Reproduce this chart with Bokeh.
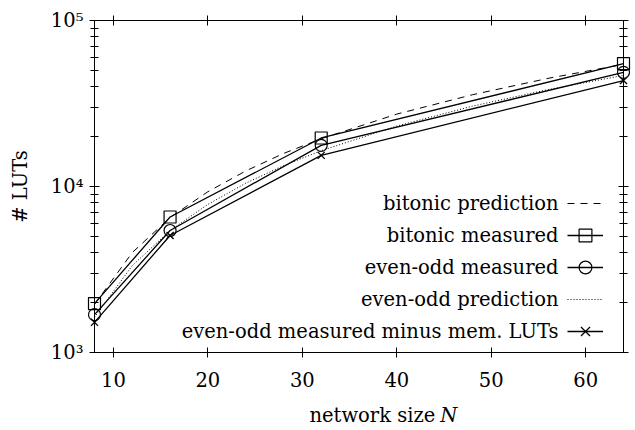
from bokeh.plotting import figure
from bokeh.layouts import column
from bokeh.models import (LogAxis, LinearAxis, Legend, LegendItem, Label,
                          FixedTicker, Range1d)
from bokeh.core.properties import value
from bokeh.embed import file_html
from bokeh.resources import INLINE

# ---- data ----
N = [8, 16, 32, 64]
bitonic_measured = [1970, 6550, 19600, 55000]
evenodd_measured = [1690, 5430, 17700, 48700]
evenodd_minus_mem = [1520, 5070, 15400, 43500]

N_pred = [8, 12, 16, 20, 24, 28, 32, 40, 48, 56, 64]
bitonic_pred = [1950, 4000, 6500, 9300, 12400, 15800, 19400, 27300, 35700, 44800, 54400]
evenodd_pred = [1630, 3340, 5420, 7800, 10460, 13340, 16430, 23130, 30470, 38340, 46700]

x_ticks = [10, 20, 30, 40, 50, 60]
y_ticks = [1000, 10000, 100000]
y_tick_labels = ["10³", "10⁴", "10⁵"]
y_minor = [m * 10 ** k for k in (3, 4) for m in range(2, 10)]

legend_labels = ["bitonic prediction", "bitonic measured", "even-odd measured",
                 "even-odd prediction", "even-odd measured minus mem. LUTs"]

FONT = "DejaVu Serif"
FS = "19.5px"

p = figure(width=635, height=398, y_axis_type="log",
           x_range=Range1d(8, 64), y_range=Range1d(1000, 100000),
           output_backend="svg", toolbar_location=None,
           min_border_left=94, min_border_right=12, min_border_top=20,
           min_border_bottom=46)
p.grid.visible = False
p.outline_line_color = "black"
p.outline_line_width = 1
p.background_fill_color = "white"
p.border_fill_color = "white"


def style_axis(ax, show_labels):
    ax.axis_line_color = "black"
    ax.major_tick_line_color = "black"
    ax.minor_tick_line_color = "black"
    ax.major_tick_in = 5
    ax.major_tick_out = 5
    ax.minor_tick_in = 4
    ax.minor_tick_out = 4
    if show_labels:
        ax.major_label_text_font = FONT
        ax.major_label_text_font_size = FS
        ax.major_label_text_color = "black"
    else:
        ax.major_label_text_font_size = "1px"
        ax.major_label_text_color = None
        ax.major_label_standoff = 0


xa = p.xaxis[0]
xa.ticker = FixedTicker(ticks=x_ticks)
style_axis(xa, True)
xa.minor_tick_line_color = None
xa.major_label_standoff = 14

ya = p.yaxis[0]
ya.ticker = FixedTicker(ticks=y_ticks, minor_ticks=y_minor)
style_axis(ya, True)
ya.major_label_overrides = {t: l for t, l in zip(y_ticks, y_tick_labels)}
ya.major_label_standoff = 6
ya.axis_label = "# LUTs"
ya.axis_label_text_font = FONT
ya.axis_label_text_font_size = FS
ya.axis_label_text_font_style = "normal"
ya.axis_label_text_color = "black"
ya.axis_label_standoff = 16

top = LinearAxis(ticker=FixedTicker(ticks=x_ticks))
style_axis(top, False)
top.minor_tick_line_color = None
p.add_layout(top, "above")

right = LogAxis(ticker=FixedTicker(ticks=y_ticks, minor_ticks=y_minor))
style_axis(right, False)
p.add_layout(right, "right")

LW = 1.3
r_bp = p.line(N_pred, bitonic_pred, line_color="black", line_width=1,
              line_dash="7 6")
r_bm_l = p.line(N, bitonic_measured, line_color="black", line_width=LW)
r_bm_m = p.scatter(N, bitonic_measured, marker="square", size=12,
                   fill_color=None, line_color="black", line_width=1.2,
                   level="overlay")
r_em_l = p.line(N, evenodd_measured, line_color="black", line_width=LW)
r_em_m = p.scatter(N, evenodd_measured, marker="circle", size=12,
                   fill_color=None, line_color="black", line_width=1.2,
                   level="overlay")
r_ep = p.line(N_pred, evenodd_pred, line_color="black", line_width=1,
              line_dash="1 2")
r_mm_l = p.line(N, evenodd_minus_mem, line_color="black", line_width=LW)
r_mm_m = p.scatter(N, evenodd_minus_mem, marker="x", size=10,
                   line_color="black", line_width=1.3, level="overlay")

items = [
    LegendItem(label="·", renderers=[r_bp]),
    LegendItem(label="·", renderers=[r_bm_l, r_bm_m]),
    LegendItem(label="·", renderers=[r_em_l, r_em_m]),
    LegendItem(label="·", renderers=[r_ep]),
    LegendItem(label="·", renderers=[r_mm_l, r_mm_m]),
]
legend = Legend(items=items, location=(473, 5), glyph_width=36,
                glyph_height=32, label_height=32, spacing=0, padding=0,
                margin=0, border_line_color=None, background_fill_alpha=0,
                label_text_font_size="2px", label_text_color=None,
                label_standoff=0, label_width=1)
p.add_layout(legend)

row_y = [149, 117, 85, 53, 21]
for txt, yy in zip(legend_labels, row_y):
    p.add_layout(Label(x=464, y=yy, x_units="screen", y_units="screen",
                       text=txt, text_align="right", text_baseline="middle",
                       text_font=FONT, text_font_size=FS, text_color="black"))

# x-axis title strip (upright text + italic N)
q = figure(width=635, height=32, x_range=Range1d(0, 635), y_range=Range1d(0, 32),
           output_backend="svg", toolbar_location=None,
           min_border_left=0, min_border_right=0, min_border_top=0,
           min_border_bottom=0)
q.axis.visible = False
q.grid.visible = False
q.outline_line_color = None
q.text(x=[409], y=[15], text=["network size"], text_align="right",
       text_baseline="middle", text_font=value(FONT), text_font_size=FS,
       text_color="black")
q.text(x=[415], y=[15], text=["N"], text_align="left",
       text_baseline="middle", text_font=value(FONT), text_font_size=FS,
       text_font_style="italic", text_color="black")

layout = column(p, q, spacing=0)
open("out.html", "w").write(file_html(layout, INLINE))
